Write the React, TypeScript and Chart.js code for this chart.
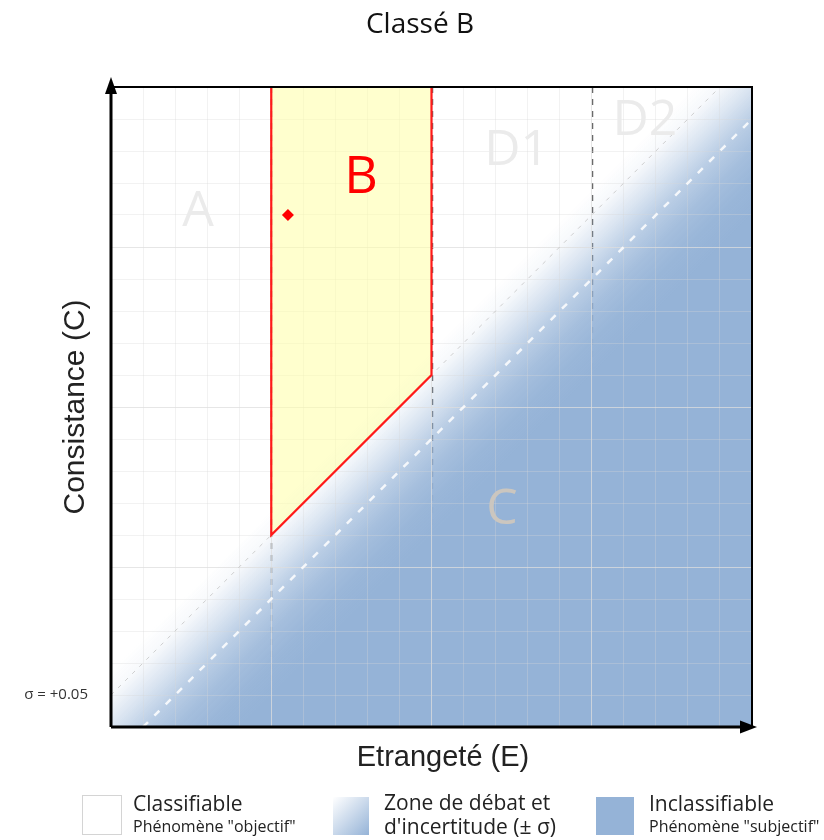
import React, { useEffect, useRef } from "react";
import { Chart, registerables } from "chart.js";

Chart.register(...registerables);

// ---- data ----
const AXIS_MIN = 0;
const AXIS_MAX = 1;
const GRID_STEP = 0.05;
const MAJOR_STEP = 0.25;
const SIGMA = 0.05;

// Zone B polygon (E, C)
const ZONE_B_X = [0.25, 0.5, 0.5, 0.25, 0.25];
const ZONE_B_Y = [1, 1, 0.55, 0.3, 1];

// classified phenomenon
const POINT_X = [0.276];
const POINT_Y = [0.8];

// vertical class boundaries
const DIVIDERS = [0.25, 0.5, 0.75];

// uncertainty band lines (C = E ± σ)
const UPPER_X = [0, 1 - SIGMA];
const UPPER_Y = [SIGMA, 1];
const LOWER_X = [SIGMA, 1];
const LOWER_Y = [0, 1 - SIGMA];

// zone names and their anchor in data units
const ZONE_NAMES = ["A", "B", "D1", "D2", "C"];
const ZONE_X = [0.136, 0.39, 0.633, 0.833, 0.61];
const ZONE_Y = [0.805, 0.858, 0.9, 0.948, 0.34];

const TITLE = "Classé B";
const X_TITLE = "Etrangeté (E)";
const Y_TITLE = "Consistance (C)";
const SIGMA_LABEL = "σ = +0.05";

const LEGEND_LABELS = ["Classifiable", "Zone de débat et", "Inclassifiable"];
const LEGEND_SUBS = ["Phénomène \"objectif\"", "d'incertitude (± σ)", "Phénomène \"subjectif\""];

const BLUE = "rgb(149,179,215)";
const blueA = (a: number) => `rgba(149,179,215,${a})`;

const toPts = (xs: number[], ys: number[]) => xs.map((x, i) => ({ x, y: ys[i] }));

const isMajor = (v: number) => Math.abs(v / MAJOR_STEP - Math.round(v / MAJOR_STEP)) < 1e-6;

const backgroundPlugin = {
  id: "bandBackground",
  beforeDraw(chart: any) {
    const { ctx, chartArea, scales } = chart;
    const { left, top, right, bottom } = chartArea;
    ctx.save();
    ctx.beginPath();
    ctx.rect(left, top, right - left, bottom - top);
    ctx.clip();
    // dashed class dividers (under the blue band)
    ctx.setLineDash([6, 6]);
    ctx.lineWidth = 1.5;
    ctx.strokeStyle = "rgba(80,80,80,0.85)";
    DIVIDERS.forEach((d) => {
      const px = Math.round(scales.x.getPixelForValue(d)) + 0.5;
      ctx.beginPath();
      ctx.moveTo(px, top);
      ctx.lineTo(px, bottom);
      ctx.stroke();
    });
    ctx.setLineDash([]);
    // diagonal gradient band
    const g = ctx.createLinearGradient(left, top, right, bottom);
    g.addColorStop(0, blueA(0));
    g.addColorStop(0.455, blueA(0));
    g.addColorStop(0.475, blueA(0.08));
    g.addColorStop(0.5, blueA(0.35));
    g.addColorStop(0.525, blueA(0.65));
    g.addColorStop(0.55, blueA(0.85));
    g.addColorStop(0.575, blueA(0.96));
    g.addColorStop(0.6, blueA(1));
    g.addColorStop(1, blueA(1));
    ctx.fillStyle = g;
    ctx.fillRect(left, top, right - left, bottom - top);
    ctx.restore();
  },
};

const overlayPlugin = {
  id: "overlay",
  afterDraw(chart: any) {
    const { ctx, chartArea, scales } = chart;
    const { left, top, right, bottom } = chartArea;
    ctx.save();
    // zone names
    ctx.textAlign = "center";
    ctx.textBaseline = "middle";
    ZONE_NAMES.forEach((n, i) => {
      const px = scales.x.getPixelForValue(ZONE_X[i]);
      const py = scales.y.getPixelForValue(ZONE_Y[i]);
      if (n === "B") {
        ctx.font = "52px 'Open Sans'";
        ctx.fillStyle = "#ff0000";
      } else if (n === "C") {
        ctx.font = "50px 'Open Sans'";
        ctx.fillStyle = "#cbc6bf";
      } else {
        ctx.font = "50px 'Open Sans'";
        ctx.fillStyle = "#ebebeb";
      }
      ctx.fillText(n, px, py);
    });

    // frame
    ctx.strokeStyle = "#000";
    ctx.lineWidth = 2;
    ctx.beginPath();
    ctx.moveTo(left, top);
    ctx.lineTo(right, top);
    ctx.lineTo(right, bottom);
    ctx.stroke();
    // axes
    ctx.lineWidth = 3;
    ctx.beginPath();
    ctx.moveTo(left, bottom);
    ctx.lineTo(left, top - 2);
    ctx.moveTo(left, bottom);
    ctx.lineTo(right - 4, bottom);
    ctx.stroke();
    ctx.fillStyle = "#000";
    // arrow up
    ctx.beginPath();
    ctx.moveTo(left, top - 10);
    ctx.lineTo(left - 6, top + 7);
    ctx.lineTo(left + 6, top + 7);
    ctx.closePath();
    ctx.fill();
    // arrow right
    ctx.beginPath();
    ctx.moveTo(right + 5, bottom);
    ctx.lineTo(right - 12, bottom - 6.5);
    ctx.lineTo(right - 12, bottom + 6.5);
    ctx.closePath();
    ctx.fill();

    // title
    ctx.fillStyle = "#111";
    ctx.textAlign = "center";
    ctx.textBaseline = "alphabetic";
    ctx.font = "28px 'Open Sans'";
    ctx.fillText(TITLE, 420, 33);

    // x title
    ctx.font = "29px 'Liberation Sans'";
    ctx.fillStyle = "#222";
    ctx.fillText(X_TITLE, 443, 766);

    // y title
    ctx.save();
    ctx.translate(84, (top + bottom) / 2);
    ctx.rotate(-Math.PI / 2);
    ctx.font = "30px 'Liberation Sans'";
    ctx.fillText(Y_TITLE, 0, 0);
    ctx.restore();

    // sigma label
    ctx.font = "15px 'Open Sans'";
    ctx.fillStyle = "#333";
    ctx.textAlign = "right";
    ctx.textBaseline = "middle";
    ctx.fillText(SIGMA_LABEL, 88, scales.y.getPixelForValue(SIGMA));
    ctx.restore();
  },
};

function ChartCanvas() {
  const ref = useRef<HTMLCanvasElement | null>(null);
  useEffect(() => {
    if (!ref.current) return;
    const gridColor = (c: any) => {
      const v = c.tick.value;
      if (v <= AXIS_MIN + 1e-6 || v >= AXIS_MAX - 1e-6) return "rgba(0,0,0,0)";
      return isMajor(v) ? "rgba(222,222,222,0.75)" : "rgba(215,215,215,0.32)";
    };
    const chart = new Chart(ref.current, {
      type: "scatter",
      data: {
        datasets: [
          {
            label: "Phénomène",
            data: toPts(POINT_X, POINT_Y),
            pointStyle: "rectRot",
            pointRadius: 6,
            backgroundColor: "#ff0000",
            borderColor: "#ff0000",
            borderWidth: 0,
            showLine: false,
          },
          {
            label: "B",
            data: toPts(ZONE_B_X, ZONE_B_Y),
            showLine: true,
            fill: "shape",
            backgroundColor: "rgba(255,255,165,0.55)",
            borderColor: "#ff1a1a",
            borderWidth: 2.2,
            pointRadius: 0,
            tension: 0,
          },
          {
            label: "+σ",
            data: toPts(UPPER_X, UPPER_Y),
            showLine: true,
            fill: false,
            borderColor: "rgba(195,195,195,0.8)",
            borderWidth: 1,
            borderDash: [4, 6],
            pointRadius: 0,
          },
          {
            label: "-σ",
            data: toPts(LOWER_X, LOWER_Y),
            showLine: true,
            fill: false,
            borderColor: "rgba(255,255,255,0.85)",
            borderWidth: 2.5,
            borderDash: [7, 9],
            pointRadius: 0,
          },
        ],
      },
      options: {
        animation: false,
        responsive: false,
        devicePixelRatio: 1,
        layout: { padding: { left: 111, top: 87, right: 72, bottom: 113 } },
        plugins: {
          legend: { display: false },
          title: { display: false },
          tooltip: { enabled: false },
        },
        scales: {
          x: {
            type: "linear",
            min: AXIS_MIN,
            max: AXIS_MAX,
            ticks: { display: false, stepSize: GRID_STEP },
            grid: { drawTicks: false, color: gridColor, lineWidth: 1 },
            border: { display: false },
          },
          y: {
            type: "linear",
            min: AXIS_MIN,
            max: AXIS_MAX,
            ticks: { display: false, stepSize: GRID_STEP },
            grid: { drawTicks: false, color: gridColor, lineWidth: 1 },
            border: { display: false },
          },
        },
      } as any,
      plugins: [backgroundPlugin, overlayPlugin],
    });
    return () => chart.destroy();
  }, []);
  return <canvas ref={ref} width={824} height={840} style={{ position: "absolute", left: 0, top: 0 }} />;
}

const swatchStyles: React.CSSProperties[] = [
  { left: 82, top: 795, width: 38, height: 38, background: "#fff", border: "1px solid #d4d4d4" },
  { left: 333, top: 797, width: 36, height: 38, background: `linear-gradient(135deg, #ffffff 0%, ${BLUE} 100%)` },
  { left: 596, top: 797, width: 38, height: 38, background: BLUE },
];
const textLefts = [133, 384, 649];

export default function App() {
  return (
    <div style={{ position: "absolute", left: 0, top: 0, width: 824, height: 840, background: "#fff", overflow: "hidden" }}>
      <ChartCanvas />
      {LEGEND_LABELS.map((lab, i) => (
        <React.Fragment key={lab}>
          <div style={{ position: "absolute", boxSizing: "content-box", ...swatchStyles[i] }} />
          <div
            style={{
              position: "absolute",
              left: textLefts[i],
              top: i === 1 ? 790 : 791,
              fontFamily: "'Open Sans', sans-serif",
              color: "#222",
              whiteSpace: "nowrap",
            }}
          >
            <div style={{ fontSize: 21, lineHeight: i === 1 ? "24px" : "25px" }}>{lab}</div>
            <div style={{ fontSize: i === 1 ? 21 : 16, lineHeight: i === 1 ? "24px" : "20px" }}>{LEGEND_SUBS[i]}</div>
          </div>
        </React.Fragment>
      ))}
    </div>
  );
}
